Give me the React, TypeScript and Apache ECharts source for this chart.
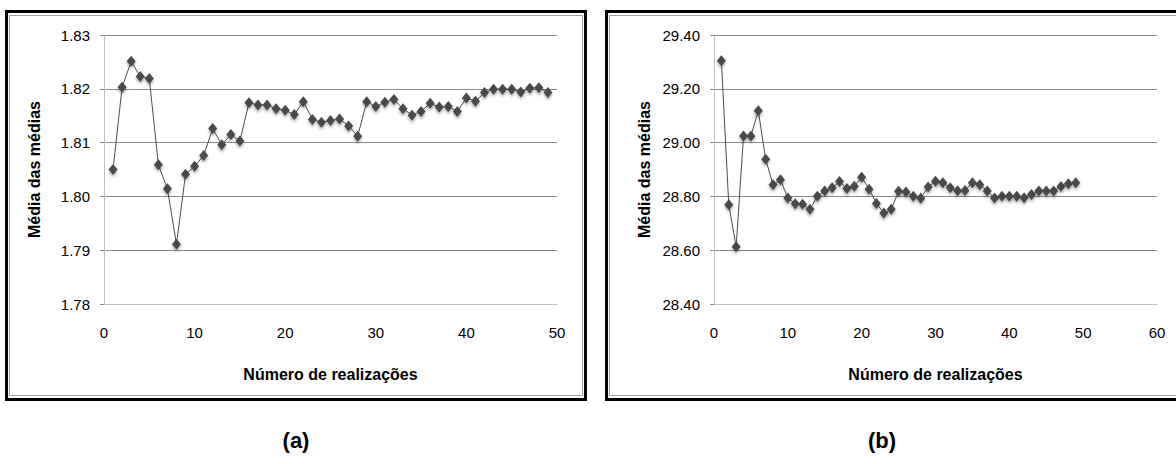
import React, { useEffect, useRef } from "react";
import * as echarts from "echarts";

// Realization number (x) shared by both panels
const realizacoes = Array.from({ length: 49 }, (_, i) => i + 1);

// Panel (a) values
const mediasA = [
  1.805, 1.8203, 1.8251, 1.8223, 1.8219, 1.8059, 1.8014, 1.7911, 1.8041, 1.8056,
  1.8076, 1.8126, 1.8096, 1.8115, 1.8103, 1.8174, 1.817, 1.817, 1.8163, 1.816,
  1.8152, 1.8176, 1.8143, 1.8138, 1.8141, 1.8144, 1.8131, 1.8112, 1.8176, 1.8167,
  1.8175, 1.818, 1.8163, 1.8151, 1.8158, 1.8173, 1.8166, 1.8167, 1.8158, 1.8183,
  1.8177, 1.8193, 1.8199, 1.8199, 1.8199, 1.8194, 1.8201, 1.8202, 1.8193,
];

// Panel (b) values
const mediasB = [
  29.304, 28.769, 28.613, 29.025, 29.025, 29.118, 28.938, 28.843, 28.862, 28.794,
  28.773, 28.771, 28.752, 28.801, 28.82, 28.832, 28.855, 28.829, 28.838, 28.871,
  28.827, 28.774, 28.738, 28.752, 28.819, 28.816, 28.801, 28.793, 28.835, 28.856,
  28.851, 28.832, 28.821, 28.822, 28.851, 28.843, 28.82, 28.794, 28.801, 28.801,
  28.801, 28.795, 28.807, 28.82, 28.82, 28.82, 28.837, 28.847, 28.851,
];

const xTitle = "Número de realizações";
const yTitle = "Média das médias";
const panelLabels = ["(a)", "(b)"];

const FONT = "'Liberation Sans', Arial, sans-serif";

export default function App() {
  const ref = useRef<HTMLDivElement>(null);

  useEffect(() => {
    document.body.style.margin = "0";
    if (!ref.current) return;
    const chart = echarts.init(ref.current, undefined, { renderer: "svg" });

    const axisLabel = { color: "#000", fontFamily: FONT, fontSize: 15 };
    const nameStyle = { color: "#000", fontFamily: FONT, fontSize: 16, fontWeight: "bold" as const };
    const gridLineColors = ["#c0c0c0", "#8a8a8a", "#8a8a8a", "#8a8a8a", "#8a8a8a", "#8a8a8a"];

    const mkX = (gridIndex: number, max: number) => ({
      type: "value",
      gridIndex,
      min: 0,
      max,
      interval: 10,
      axisLine: { show: true, lineStyle: { color: "#c0c0c0", width: 1 } },
      axisTick: { show: false },
      splitLine: { show: false },
      axisLabel: { ...axisLabel, margin: 21 },
      name: xTitle,
      nameLocation: "middle",
      nameGap: 62,
      nameTextStyle: nameStyle,
    });

    const mkY = (gridIndex: number, min: number, max: number, interval: number) => ({
      type: "value",
      gridIndex,
      min,
      max,
      interval,
      axisLine: { show: true, lineStyle: { color: "#c0c0c0", width: 1 } },
      axisTick: { show: true, length: 4, lineStyle: { color: "#8a8a8a" } },
      splitLine: { show: true, lineStyle: { color: gridLineColors, width: 1 } },
      axisLabel: { ...axisLabel, margin: 14, formatter: (v: number) => v.toFixed(2) },
      name: yTitle,
      nameLocation: "middle",
      nameRotate: 90,
      nameGap: 62,
      nameTextStyle: nameStyle,
    });

    const seriesStyle = {
      type: "line",
      symbol: "diamond",
      symbolSize: [9, 11],
      lineStyle: { color: "#4a4a4a", width: 1 },
      itemStyle: {
        color: "#4a4a4a",
        shadowBlur: 3,
        shadowColor: "rgba(0,0,0,0.35)",
        shadowOffsetY: 2,
      },
      silent: true,
    };

    const frame = (x0: number, x1: number) => [
      {
        type: "rect",
        shape: { x: x0 + 1.5, y: 11.5, width: x1 - x0 - 3, height: 388 },
        style: { fill: "none", stroke: "#000", lineWidth: 3 },
        silent: true,
      },
      {
        type: "rect",
        shape: { x: x0 + 4.5, y: 15.5, width: x1 - x0 - 9, height: 380 },
        style: { fill: "none", stroke: "#a0a0a0", lineWidth: 1 },
        silent: true,
      },
    ];

    chart.setOption({
      animation: false,
      grid: [
        { left: 104, top: 35, width: 453, height: 269 },
        { left: 714, top: 35, width: 443, height: 269 },
      ],
      xAxis: [mkX(0, 50), mkX(1, 60)],
      yAxis: [mkY(0, 1.78, 1.83, 0.01), mkY(1, 28.4, 29.4, 0.2)],
      series: [
        {
          ...seriesStyle,
          xAxisIndex: 0,
          yAxisIndex: 0,
          data: realizacoes.map((x, i) => [x, mediasA[i]]),
        },
        {
          ...seriesStyle,
          xAxisIndex: 1,
          yAxisIndex: 1,
          data: realizacoes.map((x, i) => [x, mediasB[i]]),
        },
      ],
      graphic: [
        ...frame(5, 587),
        ...frame(605, 1190),
        {
          type: "text",
          x: 296,
          y: 440,
          style: {
            text: panelLabels[0],
            font: `bold 22px ${FONT}`,
            fill: "#000",
            align: "center",
            verticalAlign: "middle",
          },
        },
        {
          type: "text",
          x: 882,
          y: 440,
          style: {
            text: panelLabels[1],
            font: `bold 22px ${FONT}`,
            fill: "#000",
            align: "center",
            verticalAlign: "middle",
          },
        },
      ],
    });

    return () => chart.dispose();
  }, []);

  return <div ref={ref} style={{ width: 1176, height: 464 }} />;
}
